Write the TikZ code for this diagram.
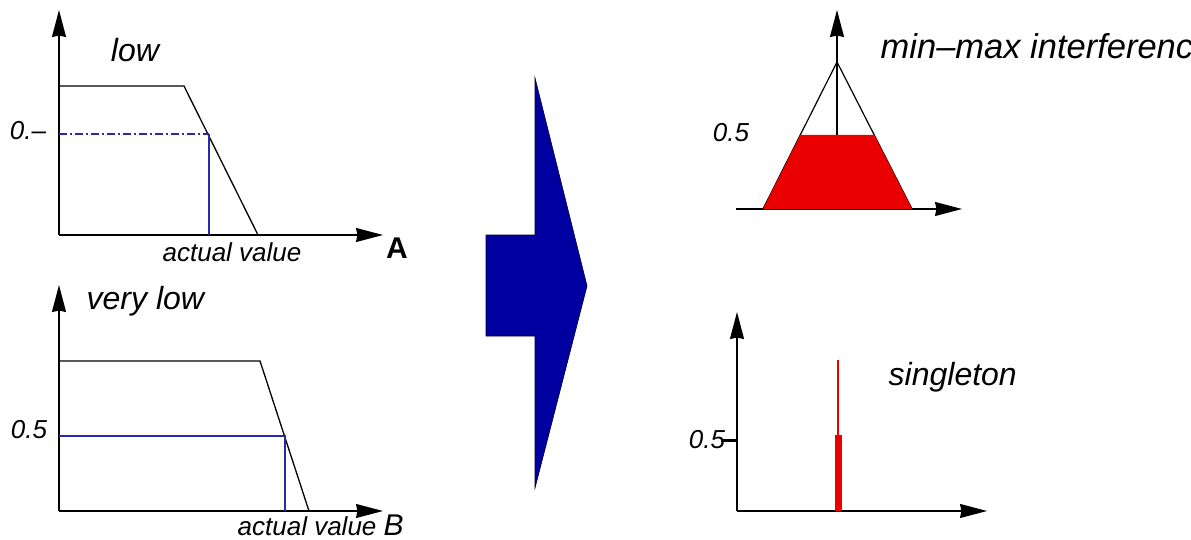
\documentclass[tikz,border=0pt]{standalone}
\usepackage{fontspec}
\setmainfont{Liberation Sans}
\usetikzlibrary{arrows.meta}
\definecolor{mblue}{RGB}{40,40,170}
\definecolor{bigblue}{RGB}{0,0,160}
\definecolor{mred}{RGB}{235,0,0}
\begin{document}
\begin{tikzpicture}[x=1pt,y=-1pt,line width=1.4pt,
  axis/.style={-{Triangle[length=27pt,width=14pt,inset=1.5pt]}},
  big/.style={inner sep=0pt,font=\fontsize{32}{36}\selectfont\itshape},
  small/.style={inner sep=0pt,font=\fontsize{26}{30}\selectfont\itshape},
  member/.style={line width=1.3pt},
  cut/.style={mblue,line width=1.3pt}]
\useasboundingbox (0,0) rectangle (1191,540);
\begin{scope}
\clip (0,0) rectangle (1191,540);
% ---------- top left: low ----------
\coordinate (o1) at (59,235);
\coordinate (y1) at (59,10);
\coordinate (x1) at (383,235);
\draw[axis] (o1) -- (y1);
\draw[axis] (o1) -- (x1);
\coordinate (p1a) at (59,86);
\coordinate (p1b) at (184,86);
\coordinate (p1c) at (258,235);
\draw[member] (p1a) -- (p1b) -- (p1c);
\coordinate (c1a) at (59,134);
\coordinate (c1b) at (209,134);
\coordinate (c1c) at (209,235);
\draw[cut,dash pattern=on 8pt off 3pt on 2pt off 3pt] (c1a) -- (c1b);
\draw[cut] (c1b) -- (c1c);
\node[big] (low) at (135,50) {low};
\node[small] (l1) at (28,131) {0.--};
\node[small] (av1) at (232,252) {actual value};
\node[inner sep=0pt,font=\fontsize{30}{34}\selectfont\bfseries] (A) at (397,248) {A};
% ---------- bottom left: very low ----------
\coordinate (o2) at (59,511);
\coordinate (y2) at (59,285);
\coordinate (x2) at (383,511);
\draw[axis] (o2) -- (y2);
\draw[axis] (o2) -- (x2);
\coordinate (p2a) at (59,361);
\coordinate (p2b) at (260,361);
\coordinate (p2c) at (309,511);
\draw[member] (p2a) -- (p2b) -- (p2c);
\coordinate (c2a) at (59,436);
\coordinate (c2b) at (285,436);
\coordinate (c2c) at (285,511);
\draw[cut] (c2a) -- (c2b) -- (c2c);
\node[big,anchor=west] (vlow) at (86,301) {very low};
\node[small,anchor=base west] (av2) at (237,535) {actual value \fontsize{30}{34}\selectfont B};
\node[small] (l2) at (29,430) {0.5};
% ---------- big arrow ----------
\filldraw[fill=bigblue,draw=black!70!bigblue,line width=0.6pt]
  (486,235) -- (535,235) -- (535,78) -- (587,286) -- (535,488) -- (535,336) -- (486,336) -- cycle;
% ---------- top right: min-max ----------
\coordinate (o3) at (837,209);
\coordinate (y3) at (837,10);
\coordinate (x3s) at (736,209);
\coordinate (x3) at (962,209);
\draw[axis] (o3) -- (y3);
\draw[axis] (x3s) -- (x3);
\coordinate (apex) at (837,62);
\coordinate (tl) at (763,209);
\coordinate (tr) at (912,209);
\draw[line width=1.2pt] (tl) -- (apex) -- (tr);
\fill[mred] (tl) -- (800.3,135) -- (874.3,135) -- (tr) -- cycle;
\node[small] (l3) at (731,133) {0.5};
\node[inner sep=0pt,font=\fontsize{34.5}{38}\selectfont\itshape,anchor=west] (mm) at (880,46) {min--max interference};
% ---------- bottom right: singleton ----------
\coordinate (o4) at (737,511);
\coordinate (y4) at (737,312);
\coordinate (x4) at (987,511);
\draw[axis] (o4) -- (y4);
\draw[axis] (o4) -- (x4);
\coordinate (s0) at (838,511);
\coordinate (s1) at (838,360);
\coordinate (s2) at (838,435);
\draw[mred,line width=2pt] (s0) -- (s1);
\draw[mred,line width=7pt] (s0) -- (s2);
\node[small] (l4) at (707,440) {0.5};
\coordinate (t4) at (721,440);
\coordinate (t4b) at (737,440);
\draw[line width=3pt] (t4) -- (t4b);
\node[big,anchor=west] (sing) at (888,377) {singleton};
\end{scope}
\end{tikzpicture}
\end{document}
